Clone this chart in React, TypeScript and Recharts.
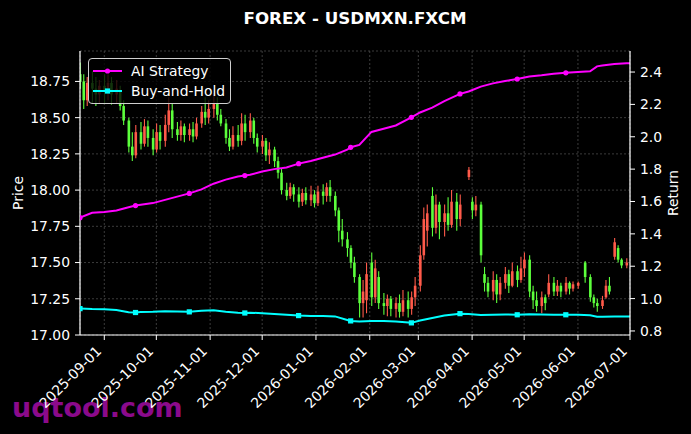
import {
  ComposedChart,
  Bar,
  Line,
  XAxis,
  YAxis,
  CartesianGrid,
  Legend,
} from 'recharts';

// daily candles (USD/MXN)
const candleDates = [
  '2025-08-18', '2025-08-20', '2025-08-22', '2025-08-25', '2025-08-27', '2025-08-29',
  '2025-09-01', '2025-09-03', '2025-09-05', '2025-09-08', '2025-09-10', '2025-09-12',
  '2025-09-15', '2025-09-17', '2025-09-19', '2025-09-22', '2025-09-24', '2025-09-26',
  '2025-09-29', '2025-10-01', '2025-10-03', '2025-10-06', '2025-10-08', '2025-10-10',
  '2025-10-13', '2025-10-15', '2025-10-17', '2025-10-20', '2025-10-22', '2025-10-24',
  '2025-10-27', '2025-10-29', '2025-10-31', '2025-11-03', '2025-11-05', '2025-11-07',
  '2025-11-10', '2025-11-12', '2025-11-14', '2025-11-17', '2025-11-19', '2025-11-21',
  '2025-11-24', '2025-11-26', '2025-11-28', '2025-12-01', '2025-12-03', '2025-12-05',
  '2025-12-08', '2025-12-10', '2025-12-12', '2025-12-15', '2025-12-17', '2025-12-19',
  '2025-12-22', '2025-12-24', '2025-12-26', '2025-12-29', '2025-12-31', '2026-01-02',
  '2026-01-05', '2026-01-07', '2026-01-09', '2026-01-12', '2026-01-14', '2026-01-16',
  '2026-01-19', '2026-01-21', '2026-01-23', '2026-01-26', '2026-01-28', '2026-01-30',
  '2026-02-02', '2026-02-04', '2026-02-06', '2026-02-09', '2026-02-11', '2026-02-13',
  '2026-02-16', '2026-02-18', '2026-02-20', '2026-02-23', '2026-02-25', '2026-02-27',
  '2026-03-02', '2026-03-04', '2026-03-06', '2026-03-09', '2026-03-11', '2026-03-13',
  '2026-03-16', '2026-03-18', '2026-03-20', '2026-03-23', '2026-03-25', '2026-03-30',
  '2026-04-01', '2026-04-03', '2026-04-06', '2026-04-08', '2026-04-10', '2026-04-13',
  '2026-04-15', '2026-04-17', '2026-04-20', '2026-04-22', '2026-04-24', '2026-04-27',
  '2026-04-29', '2026-05-01', '2026-05-04', '2026-05-06', '2026-05-08', '2026-05-11',
  '2026-05-13', '2026-05-15', '2026-05-18', '2026-05-20', '2026-05-22', '2026-05-25',
  '2026-05-27', '2026-05-29', '2026-06-01', '2026-06-05', '2026-06-08', '2026-06-10',
  '2026-06-12', '2026-06-15', '2026-06-17', '2026-06-19', '2026-06-22', '2026-06-24',
  '2026-06-26', '2026-06-29',
];

const opens = [
  18.80, 18.75, 18.62, 18.74, 18.70, 18.66,
  18.72, 18.68, 18.74, 18.66, 18.68, 18.58,
  18.48, 18.30, 18.24, 18.40, 18.32, 18.44,
  18.36, 18.28, 18.40, 18.34, 18.45, 18.55,
  18.42, 18.38, 18.44, 18.38, 18.42, 18.37,
  18.46, 18.54, 18.50, 18.56, 18.60, 18.52,
  18.46, 18.36, 18.30, 18.38, 18.34, 18.46,
  18.40, 18.48, 18.36, 18.30, 18.34, 18.24,
  18.28, 18.20, 18.12, 18.00, 17.96, 18.02,
  17.97, 17.92, 17.98, 17.93, 17.97, 17.91,
  17.99, 17.96, 18.02, 17.96, 17.86, 17.72,
  17.66, 17.60, 17.50, 17.40, 17.22, 17.24,
  17.50, 17.26, 17.40, 17.22, 17.20, 17.25,
  17.18, 17.22, 17.16, 17.24, 17.18, 17.26,
  17.34, 17.55, 17.72, 17.96, 17.74, 17.90,
  17.78, 17.84, 17.76, 17.92, 17.80, 18.09,
  17.92, 17.86, 17.90, 17.42, 17.36, 17.30,
  17.38, 17.28, 17.36, 17.42, 17.34, 17.44,
  17.38, 17.46, 17.52, 17.30, 17.24, 17.20,
  17.26, 17.28, 17.36, 17.30, 17.34, 17.30,
  17.36, 17.32, 17.34, 17.50, 17.40, 17.26,
  17.22, 17.20, 17.26, 17.34, 17.54, 17.60,
  17.52, 17.48,
];

const highs = [
  18.88, 18.80, 18.78, 18.82, 18.78, 18.76,
  18.80, 18.80, 18.78, 18.76, 18.72, 18.62,
  18.50, 18.40, 18.45, 18.47, 18.49, 18.48,
  18.42, 18.46, 18.45, 18.52, 18.64, 18.60,
  18.47, 18.48, 18.46, 18.46, 18.47, 18.50,
  18.58, 18.64, 18.62, 18.67, 18.64, 18.56,
  18.49, 18.42, 18.44, 18.45, 18.53, 18.52,
  18.53, 18.50, 18.39, 18.38, 18.36, 18.33,
  18.30, 18.23, 18.15, 18.05, 18.05, 18.04,
  18.02, 18.01, 18.02, 18.03, 18.00, 18.03,
  18.04, 18.05, 18.07, 17.99, 17.88, 17.80,
  17.71, 17.62, 17.54, 17.42, 17.38, 17.50,
  17.57, 17.52, 17.44, 17.29, 17.28, 17.27,
  17.26, 17.28, 17.31, 17.30, 17.30, 17.40,
  17.62, 17.88, 17.90, 18.02, 17.97, 17.92,
  17.90, 17.95, 18.00, 17.98, 17.97, 18.16,
  17.95, 17.96, 17.92, 17.47, 17.40, 17.44,
  17.42, 17.40, 17.47, 17.45, 17.50, 17.48,
  17.54, 17.57, 17.55, 17.34, 17.30, 17.30,
  17.28, 17.42, 17.40, 17.38, 17.36, 17.40,
  17.37, 17.37, 17.37, 17.51, 17.42, 17.28,
  17.25, 17.27, 17.38, 17.40, 17.67, 17.62,
  17.53, 17.53,
];

const lows = [
  18.70, 18.56, 18.58, 18.60, 18.58, 18.60,
  18.60, 18.62, 18.59, 18.60, 18.55, 18.45,
  18.26, 18.20, 18.22, 18.28, 18.30, 18.30,
  18.24, 18.26, 18.28, 18.30, 18.40, 18.36,
  18.34, 18.34, 18.33, 18.34, 18.33, 18.35,
  18.43, 18.45, 18.46, 18.50, 18.48, 18.44,
  18.32, 18.27, 18.28, 18.30, 18.31, 18.34,
  18.36, 18.32, 18.26, 18.25, 18.20, 18.18,
  18.16, 18.08, 17.97, 17.93, 17.94, 17.92,
  17.88, 17.89, 17.90, 17.89, 17.88, 17.89,
  17.90, 17.92, 17.92, 17.82, 17.64, 17.61,
  17.54, 17.46, 17.36, 17.12, 17.12, 17.15,
  17.20, 17.22, 17.18, 17.14, 17.13, 17.13,
  17.12, 17.12, 17.13, 17.12, 17.14, 17.20,
  17.30, 17.52, 17.61, 17.68, 17.70, 17.66,
  17.68, 17.72, 17.74, 17.72, 17.75, 18.07,
  17.80, 17.82, 17.50, 17.30, 17.26, 17.24,
  17.22, 17.24, 17.32, 17.29, 17.33, 17.33,
  17.36, 17.40, 17.26, 17.18, 17.16, 17.15,
  17.17, 17.26, 17.27, 17.27, 17.26, 17.28,
  17.28, 17.30, 17.32, 17.36, 17.23, 17.19,
  17.16, 17.18, 17.25, 17.28, 17.52, 17.50,
  17.46, 17.46,
];

const closes = [
  18.75, 18.62, 18.74, 18.70, 18.66, 18.72,
  18.68, 18.74, 18.66, 18.70, 18.58, 18.48,
  18.30, 18.24, 18.40, 18.32, 18.44, 18.36,
  18.28, 18.40, 18.34, 18.45, 18.55, 18.42,
  18.38, 18.44, 18.38, 18.42, 18.37, 18.46,
  18.54, 18.50, 18.56, 18.60, 18.52, 18.46,
  18.36, 18.30, 18.38, 18.34, 18.46, 18.40,
  18.48, 18.36, 18.30, 18.34, 18.24, 18.28,
  18.20, 18.12, 18.00, 17.96, 18.02, 17.97,
  17.92, 17.98, 17.93, 17.97, 17.91, 17.99,
  17.96, 18.02, 17.96, 17.86, 17.72, 17.66,
  17.60, 17.50, 17.40, 17.22, 17.30, 17.42,
  17.26, 17.46, 17.22, 17.20, 17.25, 17.18,
  17.22, 17.16, 17.24, 17.18, 17.26, 17.34,
  17.55, 17.80, 17.84, 17.74, 17.90, 17.78,
  17.84, 17.76, 17.92, 17.80, 17.90, 18.14,
  17.86, 17.90, 17.55, 17.36, 17.30, 17.38,
  17.28, 17.36, 17.42, 17.34, 17.44, 17.38,
  17.46, 17.52, 17.30, 17.24, 17.20, 17.26,
  17.22, 17.36, 17.30, 17.34, 17.30, 17.36,
  17.32, 17.35, 17.36, 17.40, 17.26, 17.22,
  17.20, 17.24, 17.34, 17.30, 17.64, 17.52,
  17.48, 17.50,
];

// cumulative return curves (right axis)
const lineDates = [
  '2025-08-18', '2025-08-25', '2025-09-01', '2025-09-08', '2025-09-15', '2025-09-19',
  '2025-09-22', '2025-09-29', '2025-10-06', '2025-10-13', '2025-10-20', '2025-10-27',
  '2025-11-03', '2025-11-10', '2025-11-17', '2025-11-21', '2025-11-24', '2025-12-01',
  '2025-12-08', '2025-12-15', '2025-12-22', '2025-12-29', '2026-01-05', '2026-01-12',
  '2026-01-19', '2026-01-21', '2026-01-26', '2026-02-02', '2026-02-09', '2026-02-16',
  '2026-02-25', '2026-03-02', '2026-03-09', '2026-03-16', '2026-03-25', '2026-03-30',
  '2026-04-06', '2026-04-13', '2026-04-20', '2026-04-27', '2026-05-04', '2026-05-11',
  '2026-05-18', '2026-05-25', '2026-06-01', '2026-06-08', '2026-06-12', '2026-06-15',
  '2026-06-22', '2026-06-29', '2026-07-01',
];

const aiStrategy = [
  1.50, 1.53, 1.535, 1.545, 1.565, 1.575,
  1.58, 1.59, 1.61, 1.63, 1.65, 1.675,
  1.71, 1.735, 1.755, 1.76, 1.765, 1.785,
  1.80, 1.81, 1.834, 1.85, 1.87, 1.89,
  1.92, 1.935, 1.95, 2.03, 2.05, 2.07,
  2.12, 2.15, 2.18, 2.22, 2.265, 2.28,
  2.31, 2.33, 2.345, 2.357, 2.373, 2.38,
  2.39, 2.395, 2.40, 2.405, 2.435, 2.44,
  2.45, 2.455, 2.455,
];

const buyHold = [
  0.938, 0.935, 0.934, 0.930, 0.916, 0.914,
  0.917, 0.918, 0.922, 0.920, 0.918, 0.925,
  0.928, 0.918, 0.912, 0.911, 0.913, 0.910,
  0.905, 0.900, 0.895, 0.893, 0.893, 0.890,
  0.868, 0.862, 0.858, 0.862, 0.862, 0.858,
  0.850, 0.865, 0.880, 0.895, 0.907, 0.905,
  0.898, 0.900, 0.902, 0.900, 0.903, 0.902,
  0.900, 0.900, 0.900, 0.897, 0.888, 0.888,
  0.890, 0.890, 0.890,
];

const markerDates = [
  '2025-08-18', '2025-09-19', '2025-10-20', '2025-11-21', '2025-12-22',
  '2026-01-21', '2026-02-25', '2026-03-25', '2026-04-27', '2026-05-25',
];

const monthTicks = [
  '2025-09-01', '2025-10-01', '2025-11-01', '2025-12-01', '2026-01-01', '2026-02-01',
  '2026-03-01', '2026-04-01', '2026-05-01', '2026-06-01', '2026-07-01',
];
const priceTicks = [17.0, 17.25, 17.5, 17.75, 18.0, 18.25, 18.5, 18.75];
const returnTicks = [0.8, 1.0, 1.2, 1.4, 1.6, 1.8, 2.0, 2.2, 2.4];

const UP = '#ff5a4a';
const DOWN = '#5cff3c';
const AI = '#ff00ff';
const BH = '#00ffff';
const FONT = '"DejaVu Sans", sans-serif';

const toT = (s: string) => Date.parse(s + 'T00:00:00Z');
const fmtDate = (t: number) => new Date(t).toISOString().slice(0, 10);

type Row = {
  date: string;
  t: number;
  open?: number;
  high?: number;
  low?: number;
  close?: number;
  range?: [number, number];
  ai?: number;
  bh?: number;
};

const rowMap = new Map<string, Row>();
candleDates.forEach((d, i) => {
  rowMap.set(d, {
    date: d,
    t: toT(d),
    open: opens[i],
    high: highs[i],
    low: lows[i],
    close: closes[i],
    range: [lows[i], highs[i]],
  });
});
lineDates.forEach((d, i) => {
  const r = rowMap.get(d) ?? { date: d, t: toT(d) };
  r.ai = aiStrategy[i];
  r.bh = buyHold[i];
  rowMap.set(d, r);
});
const rows = [...rowMap.values()].sort((a, b) => a.t - b.t);

const Candle = (props: any) => {
  const { x, y, width, height, payload } = props;
  if (!payload || payload.open == null || y == null || isNaN(y)) return <g />;
  const { open, close, high, low } = payload;
  const top = Math.min(y, y + height);
  const bottom = Math.max(y, y + height);
  const perUnit = (bottom - top) / (high - low || 1);
  const yOf = (v: number) => top + (high - v) * perUnit;
  const bodyTop = yOf(Math.max(open, close));
  const bodyBottom = yOf(Math.min(open, close));
  const color = close >= open ? UP : DOWN;
  const cx = x + width / 2;
  return (
    <g>
      <line x1={cx} x2={cx} y1={top} y2={bottom} stroke={color} strokeWidth={1.1} />
      <rect
        x={cx - 1.3}
        y={bodyTop}
        width={2.6}
        height={Math.max(bodyBottom - bodyTop, 1)}
        fill={color}
      />
    </g>
  );
};

const AiDot = (props: any) => {
  const { cx, cy, payload, index } = props;
  if (!markerDates.includes(payload?.date)) return <g key={`a${index}`} />;
  return <circle key={`a${index}`} cx={cx} cy={cy} r={2.6} fill={AI} />;
};

const BhDot = (props: any) => {
  const { cx, cy, payload, index } = props;
  if (!markerDates.includes(payload?.date)) return <g key={`b${index}`} />;
  return <rect key={`b${index}`} x={cx - 2.6} y={cy - 2.6} width={5.2} height={5.2} fill={BH} />;
};

const DateTick = (props: any) => {
  const { x, y, payload } = props;
  const ax = x - 2;
  const ay = y + 10;
  return (
    <text
      x={ax}
      y={ay}
      fill="#fff"
      fontSize={13.9}
      fontFamily={FONT}
      textAnchor="end"
      transform={`rotate(-45 ${ax} ${ay})`}
    >
      {fmtDate(payload.value)}
    </text>
  );
};

const LegendBox = () => (
  <div
    style={{
      width: 143,
      height: 46,
      boxSizing: 'border-box',
      border: '1px solid #cfcfcf',
      borderRadius: 4,
      background: 'rgba(0,0,0,0.8)',
      fontFamily: FONT,
      fontSize: 13.9,
      color: '#fff',
      paddingTop: 2,
    }}
  >
    {[
      { name: 'AI Strategy', color: AI, marker: 'circle' },
      { name: 'Buy-and-Hold', color: BH, marker: 'square' },
    ].map((item) => (
      <div key={item.name} style={{ display: 'flex', alignItems: 'center', height: 20 }}>
        <svg width={42} height={12} style={{ flex: 'none' }}>
          <line x1={4} x2={33} y1={6} y2={6} stroke={item.color} strokeWidth={2} />
          {item.marker === 'circle' ? (
            <circle cx={18.5} cy={6} r={2.6} fill={item.color} />
          ) : (
            <rect x={15.9} y={3.4} width={5.2} height={5.2} fill={item.color} />
          )}
        </svg>
        <span style={{ lineHeight: '16px' }}>{item.name}</span>
      </div>
    ))}
  </div>
);

const xDomain = [toT('2025-08-18'), toT('2026-07-01')];
const tickStyle = { fill: '#fff', fontSize: 13.9, fontFamily: FONT };

export default function App() {
  return (
    <div
      style={{
        position: 'fixed',
        left: 0,
        top: 0,
        width: 691,
        height: 434,
        background: '#000',
        overflow: 'hidden',
        fontFamily: FONT,
      }}
    >
      <div
        style={{
          position: 'absolute',
          left: 12,
          top: 394,
          fontSize: 27,
          lineHeight: '27px',
          fontWeight: 'bold',
          color: '#8b0a8b',
        }}
      >
        uqtool.com
      </div>
      <div
        style={{
          position: 'absolute',
          left: 80,
          top: 8,
          width: 550,
          textAlign: 'center',
          fontSize: 16.7,
          lineHeight: '20px',
          fontWeight: 'bold',
          color: '#fff',
        }}
      >
        FOREX - USDMXN.FXCM
      </div>
      <div
        style={{
          position: 'absolute',
          left: -32,
          top: 185,
          width: 100,
          textAlign: 'center',
          fontSize: 13.9,
          lineHeight: '16px',
          color: '#fff',
          transform: 'rotate(-90deg)',
        }}
      >
        Price
      </div>
      <div
        style={{
          position: 'absolute',
          left: 623,
          top: 185,
          width: 100,
          textAlign: 'center',
          fontSize: 13.9,
          lineHeight: '16px',
          color: '#fff',
          transform: 'rotate(-90deg)',
        }}
      >
        Return
      </div>
      <ComposedChart
        width={691}
        height={434}
        data={rows}
        margin={{ top: 51, right: 0, bottom: 0, left: 0 }}
        style={{ position: 'absolute', left: 0, top: 0 }}
      >
        <CartesianGrid
          yAxisId="price"
          stroke="#4a4a4a"
          strokeDasharray="2 2"
          strokeWidth={0.8}
        />
        <XAxis
          dataKey="t"
          type="number"
          domain={xDomain}
          allowDataOverflow
          ticks={monthTicks.map(toT)}
          tick={<DateTick />}
          tickSize={5}
          tickLine={{ stroke: '#fff' }}
          axisLine={{ stroke: '#fff', strokeWidth: 1.2 }}
          height={99}
          interval={0}
        />
        <XAxis
          xAxisId="top"
          orientation="top"
          dataKey="t"
          type="number"
          domain={xDomain}
          allowDataOverflow
          height={0}
          tick={false}
          tickLine={false}
          axisLine={{ stroke: '#fff', strokeWidth: 1.2 }}
        />
        <YAxis
          yAxisId="price"
          domain={[17.0, 18.96]}
          allowDataOverflow
          ticks={priceTicks}
          tickFormatter={(v) => v.toFixed(2)}
          tick={tickStyle}
          tickSize={5}
          tickMargin={5}
          tickLine={{ stroke: '#fff' }}
          axisLine={{ stroke: '#fff', strokeWidth: 1.2 }}
          width={80}
          interval={0}
        />
        <YAxis
          yAxisId="ret"
          orientation="right"
          domain={[0.775, 2.53]}
          allowDataOverflow
          ticks={returnTicks}
          tickFormatter={(v) => v.toFixed(1)}
          tick={tickStyle}
          tickSize={5}
          tickMargin={5}
          tickLine={{ stroke: '#fff' }}
          axisLine={{ stroke: '#fff', strokeWidth: 1.2 }}
          width={61}
          interval={0}
        />
        <Bar
          yAxisId="price"
          dataKey="range"
          barSize={2}
          shape={(p: any) => <Candle {...p} />}
          isAnimationActive={false}
        />
        <Line
          yAxisId="ret"
          dataKey="ai"
          name="AI Strategy"
          type="linear"
          stroke={AI}
          strokeWidth={2}
          dot={(p: any) => <AiDot {...p} />}
          activeDot={false}
          connectNulls
          isAnimationActive={false}
        />
        <Line
          yAxisId="ret"
          dataKey="bh"
          name="Buy-and-Hold"
          type="linear"
          stroke={BH}
          strokeWidth={2}
          dot={(p: any) => <BhDot {...p} />}
          activeDot={false}
          connectNulls
          isAnimationActive={false}
        />
        <Legend
          layout="vertical"
          align="center"
          verticalAlign="middle"
          wrapperStyle={{ left: 88, top: 58, width: 143, height: 46 }}
          content={() => <LegendBox />}
        />
      </ComposedChart>
    </div>
  );
}
